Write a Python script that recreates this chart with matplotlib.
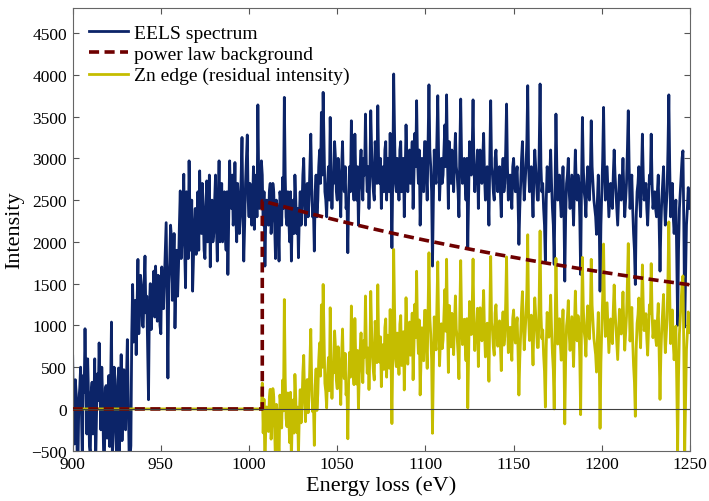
import numpy as np
import matplotlib.pyplot as plt

plt.rcParams["font.family"] = ["Liberation Serif", "DejaVu Serif"]

# EELS spectrum counts, whole-eV channels 900..1250
spectrum_whole = [
    630, -420, 180, -650, 250, -100, 400, 960, -300, 150,
    -550, 320, 30, -700, 420, 790, -250, 100, -600, 280,
    60, -450, 1040, -200, 350, -650, 490, 120, -380, 470,
    -250, 830, -550, -440, 1490, 1100, 650, 1790, 1250, 1480,
    980, 1830, 1350, 110, 1500, 1200, 1650, 1710, 1050, 1400,
    900, 1300, 1550, 2230, 370, 1750, 2050, 1600, 970, 1900,
    1700, 2610, 2000, 2810, 1450, 2300, 2970, 1900, 1410, 2200,
    1850, 2600, 2850, 2100, 2400, 1800, 2730, 2200, 1700, 2500,
    2100, 2800, 1770, 2970, 2250, 2000, 2600, 1900, 1610, 2970,
    2400, 2200, 2950, 2000, 2500, 2300, 3250, 1770, 2700, 3280,
    2300, 2600, 2450, 2150, 2800, 3640, 2400, 2970, 2200, 1710,
    2500, 2200, 2700, 2300, 2600, 1800, 2400, 1770, 2500, 2770,
    3730, 2300, 2600, 2000, 1770, 2500, 2800, 2100, 1810, 2600,
    2400, 3000, 2200, 2700, 2500, 3290, 2300, 1890, 2800, 2500,
    3100, 3550, 3790, 2600, 2300, 2900, 3490, 2400, 2700, 3000,
    2500, 2800, 2300, 3200, 2600, 2400, 1870, 2900, 3450, 2700,
    3290, 2500, 2200, 2900, 2700, 3000, 3530, 2600, 2400, 3570,
    2800, 2500, 3000, 3630, 2700, 2400, 2900, 3100, 2500, 2800,
    3300, 1930, 4010, 2700, 3000, 2500, 3200, 2800, 2300, 3400,
    2600, 3100, 2900, 2400, 3300, 3690, 2700, 2200, 3000, 2600,
    3200, 2500, 3880, 2900, 1710, 3100, 2700, 3750, 2500, 3000,
    2800, 3400, 3760, 2400, 2900, 3100, 2600, 3300, 2800, 2300,
    3710, 2700, 3000, 2500, 1930, 3200, 2800, 3700, 2600, 2900,
    2400, 3100, 2700, 3300, 2500, 2900, 2200, 3690, 2800, 2500,
    3100, 2600, 2900, 2300, 3000, 2700, 3650, 2500, 2800, 2400,
    3000, 2600, 2900, 1970, 2700, 3200, 2500, 2900, 3870, 2600,
    2900, 2300, 3100, 2700, 2500, 3890, 2600, 2400, 1770, 2900,
    2600, 3100, 2400, 1730, 3530, 2500, 2800, 2300, 2900, 1530,
    2700, 3000, 2400, 2800, 2200, 3100, 2500, 2700, 1610, 3490,
    2600, 2300, 2900, 2500, 3450, 2700, 2400, 2090, 2800, 1410,
    2600, 3610, 2500, 2900, 2300, 2700, 2400, 3100, 2600, 2200,
    2800, 2500, 3000, 2300, 2700, 3570, 2400, 2800, 2100, 1490,
    2600, 2900, 2300, 3290, 2500, 2700, 2200, 2800, 3290, 2400,
    2600, 2300, 2800, 1650, 2500, 2900, 2200, 2600, 3760, 2300,
    2700, 2100, 2500, 1000, 2400, 2800, 3090, 980, 2200, 2650,
    2400,
]

# half-eV channels 900.5..1249.5
spectrum_half = [
    -200, 350, -500, 100, 500, -650, 200, 300, 600, -450,
    200, -300, 600, -100, 100, 300, 500, -500, 250, -350,
    400, 250, -600, 500, -300, 200, -550, 650, 150, -200,
    350, 100, -600, 900, 800, 1300, 1200, 900, 1600, 1000,
    1450, 1150, 700, 1250, 950, 1400, 1100, 1300, 1600, 1000,
    1700, 1200, 1900, 1400, 1500, 2200, 1300, 2100, 1500, 1350,
    2200, 1800, 2400, 1900, 2600, 1800, 2300, 2500, 1800, 2400,
    2300, 1900, 2300, 2700, 1900, 2400, 2000, 2800, 2300, 2000,
    2500, 2200, 2400, 2000, 2700, 2300, 2100, 2600, 2300, 2500,
    2800, 2400, 2300, 2700, 2100, 2800, 2400, 2200, 3000, 2500,
    2700, 2200, 2900, 2600, 2300, 2700, 2500, 2800, 2600, 2300,
    2300, 2600, 2100, 2700, 2200, 2500, 2200, 2600, 2200, 2400,
    2800, 2200, 2300, 2600, 2300, 2100, 2500, 2400, 2300, 2200,
    2800, 2500, 2600, 2300, 2900, 2700, 2400, 2600, 2300, 2900,
    2700, 2800, 3200, 2500, 2700, 2500, 2900, 2800, 3200, 2600,
    3000, 2600, 2900, 2700, 2900, 2500, 2600, 2600, 3000, 2500,
    2800, 2900, 2600, 3100, 2500, 2800, 2900, 2900, 2800, 3100,
    2600, 3200, 2700, 2900, 3000, 2800, 2600, 3200, 3000, 2600,
    2700, 2800, 3300, 2600, 2800, 3100, 2600, 3000, 2800, 3000,
    3000, 2700, 3200, 2800, 2900, 3000, 3100, 2600, 2800, 3200,
    2800, 3200, 3100, 2600, 2500, 2800, 3200, 3000, 2800, 2700,
    3100, 2900, 3000, 3200, 2700, 2800, 3000, 2900, 2600, 3100,
    3000, 2800, 2700, 3000, 2600, 2900, 3100, 2900, 2800, 3100,
    2900, 2800, 3000, 2800, 2700, 2600, 3000, 2900, 2600, 3000,
    2800, 2700, 2600, 2800, 2600, 3100, 2900, 2700, 2600, 2900,
    2700, 2800, 2500, 2400, 3000, 2800, 2700, 3200, 2900, 2700,
    2600, 2800, 2900, 2500, 3100, 2900, 2700, 2200, 2500, 2800,
    2800, 2700, 2200, 2600, 2900, 2700, 2500, 2600, 2400, 2300,
    2800, 2600, 2600, 2500, 2700, 2700, 2800, 2300, 2700, 2900,
    2500, 2700, 2600, 2800, 2900, 2500, 2300, 2500, 2300, 2200,
    3000, 2900, 2700, 2600, 2500, 2500, 2800, 2800, 2400, 2500,
    2600, 2700, 2600, 2500, 3100, 2900, 2600, 2400, 1900, 2300,
    2700, 2500, 2800, 2800, 2600, 2400, 2500, 2700, 2700, 2500,
    2400, 2600, 2200, 2200, 2700, 2500, 2400, 3100, 2900, 2500,
    2300, 2300, 1800, 1900, 2600, 3000, 2200, 1600, 2400, 2500,
]

# power law background (zero below the edge onset)
bg_energy = [900, 1007.5, 1007.5, 1020, 1030, 1040, 1050, 1060, 1070, 1080,
             1090, 1100, 1110, 1120, 1130, 1140, 1150, 1160, 1170, 1180,
             1190, 1200, 1210, 1220, 1230, 1240, 1250]
background = [0, 0, 2490, 2420, 2364, 2310, 2258, 2207, 2158, 2110,
              2064, 2019, 1976, 1934, 1893, 1853, 1815, 1777, 1741, 1706,
              1672, 1639, 1606, 1575, 1544, 1515, 1486]

edge_onset = 1007.5

energy = np.arange(900, 1250.25, 0.5)
spectrum = np.empty(len(energy))
spectrum[0::2] = spectrum_whole
spectrum[1::2] = spectrum_half

bg_on_grid = np.interp(energy, bg_energy[2:], background[2:])
residual = np.where(energy < edge_onset, 0.0, spectrum - bg_on_grid)

fig = plt.figure(figsize=(7.09, 5.02), dpi=100)
ax = fig.add_axes([0.1025, 0.1002, 0.8707, 0.8819])

ax.plot(energy, spectrum, color="#0c2468", lw=2.0, label="EELS spectrum", zorder=2)
ax.plot(energy, residual, color="#c5bd00", lw=2.0,
        label="Zn edge (residual intensity)", zorder=3)
ax.plot(bg_energy, background, color="#6e0000", lw=2.6, ls=(0, (2.8, 1.5)),
        label="power law background", zorder=4)
ax.axhline(0, color="#404040", lw=0.8, zorder=5)

ax.set_xlim(900, 1250)
ax.set_ylim(-500, 4800)
ax.set_xticks(range(900, 1251, 50))
ax.set_yticks(range(-500, 4501, 500))
ax.tick_params(direction="in", top=True, right=True, labelsize=12.5,
               length=4, width=0.8, color="#555555", pad=4)
for s in ax.spines.values():
    s.set_color("#666666")
    s.set_linewidth(0.8)

ax.set_xlabel("Energy loss (eV)", fontsize=16, labelpad=2)
ax.set_ylabel("Intensity", fontsize=16, labelpad=5)

h, l = ax.get_legend_handles_labels()
order = [0, 2, 1]
ax.legend([h[i] for i in order], [l[i] for i in order], loc="upper left",
          frameon=False, fontsize=14, handlelength=2.0, handletextpad=0.3,
          labelspacing=0.18, borderaxespad=0.45)

fig.savefig("out.png", dpi=100)
